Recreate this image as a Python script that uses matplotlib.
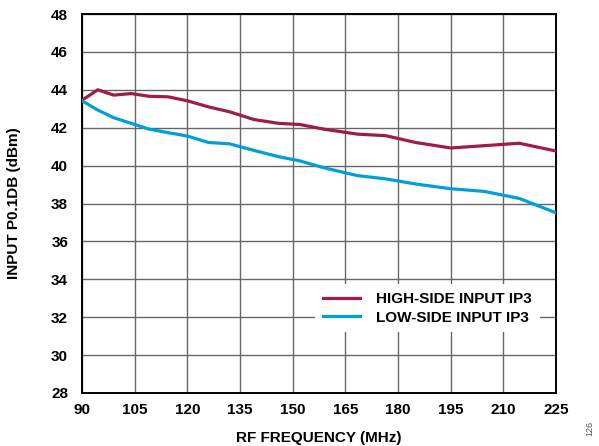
import matplotlib
matplotlib.use("Agg")
import matplotlib.pyplot as plt

plt.rcParams['font.family'] = ['Liberation Sans', 'DejaVu Sans']

freq_high = [90, 94.5, 99, 104, 109, 114.5, 120, 126, 132, 139, 146, 152, 159, 168.5, 176.5, 185, 195, 204.5, 214.5, 225]
ip3_high = [43.45, 44.0, 43.72, 43.8, 43.66, 43.63, 43.42, 43.1, 42.84, 42.43, 42.23, 42.17, 41.92, 41.66, 41.58, 41.22, 40.93, 41.05, 41.18, 40.77]

freq_low = [90, 94.5, 99, 104, 109, 114.5, 120, 126, 132, 139, 146, 152, 159, 168.5, 176.5, 185, 195, 204.5, 214.5, 225]
ip3_low = [43.42, 42.93, 42.53, 42.23, 41.93, 41.74, 41.56, 41.22, 41.15, 40.8, 40.47, 40.25, 39.88, 39.47, 39.3, 39.03, 38.78, 38.64, 38.27, 37.51]

x_ticks = [90, 105, 120, 135, 150, 165, 180, 195, 210, 225]
y_ticks = [28, 30, 32, 34, 36, 38, 40, 42, 44, 46, 48]

fig = plt.figure(figsize=(5.99, 4.46), dpi=100)
ax = fig.add_axes([82/599, 1 - 393/446, (556-82)/599, (393-14)/446])

ax.plot(freq_high, ip3_high, color='#9E1C48', lw=2.3, label='HIGH-SIDE INPUT IP3', zorder=3)
ax.plot(freq_low, ip3_low, color='#009FDA', lw=2.3, label='LOW-SIDE INPUT IP3', zorder=3)

ax.set_xlim(90, 225)
ax.set_ylim(28, 48)
ax.set_xticks(x_ticks)
ax.set_yticks(y_ticks)
ax.grid(True, color='#666666', lw=1.0)
ax.set_axisbelow(True)
for s in ax.spines.values():
    s.set_linewidth(1.4)
    s.set_color('black')
ax.tick_params(axis='y', length=0, pad=10, labelsize=11)
ax.tick_params(axis='x', length=0, pad=7, labelsize=11)
for lab in ax.get_xticklabels() + ax.get_yticklabels():
    lab.set_fontweight('bold')

ax.set_xlabel('RF FREQUENCY (MHz)', fontsize=11, fontweight='bold', labelpad=10)
ax.set_ylabel('INPUT P0.1DB (dBm)', fontsize=11, fontweight='bold')
ax.yaxis.set_label_coords((21 - 82) / 474, 0.5)

leg = ax.legend(loc='lower right', bbox_to_anchor=(0.982, 0.14), frameon=True, fancybox=False,
                edgecolor='none', facecolor='white', framealpha=1, handlelength=2.4,
                handletextpad=1.1, borderpad=0.5, labelspacing=0.3,
                prop={'size': 11, 'weight': 'bold'})

fig.text(590/599, 1 - 428/446, '126', rotation=90, fontsize=6.5, color='#555555', ha='center', va='center')

fig.savefig('out.png', dpi=100)
